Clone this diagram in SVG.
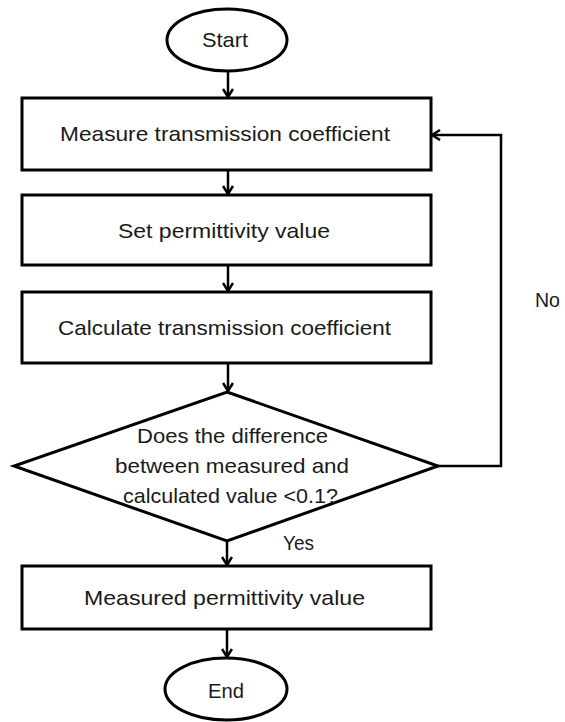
<svg xmlns="http://www.w3.org/2000/svg" width="565" height="722" viewBox="0 0 565 722">
<defs>
<marker id="arr" markerWidth="12" markerHeight="12" viewBox="0 0 12 12" refX="11" refY="6" orient="auto" markerUnits="userSpaceOnUse">
<path d="M3,1 L11,6 L3,11" fill="none" stroke="#000" stroke-width="2.5"/>
</marker>
<style>
.s{fill:#fff;stroke:#000;stroke-width:3}
.c{fill:none;stroke:#000;stroke-width:2.5}
text{font-family:"Liberation Sans","Open Sans",sans-serif;font-size:21px;fill:#1a1a1a;text-anchor:middle}
</style>
</defs>
<rect width="565" height="722" fill="#fff"/>
<g id="connectors">
<line class="c" x1="228" y1="72" x2="228" y2="97" marker-end="url(#arr)"/>
<line class="c" x1="228" y1="170" x2="228" y2="194" marker-end="url(#arr)"/>
<line class="c" x1="228" y1="265" x2="228" y2="291" marker-end="url(#arr)"/>
<line class="c" x1="228" y1="363" x2="228" y2="391" marker-end="url(#arr)"/>
<line class="c" x1="227" y1="541" x2="227" y2="565" marker-end="url(#arr)"/>
<line class="c" x1="227" y1="629" x2="227" y2="657" marker-end="url(#arr)"/>
<polyline class="c" points="438,466 501,466 501,135 432,135" marker-end="url(#arr)"/>
<text x="298.5" y="550" textLength="31" lengthAdjust="spacingAndGlyphs">Yes</text>
<text x="547.5" y="307" textLength="25" lengthAdjust="spacingAndGlyphs">No</text>
</g>
<g id="start">
<ellipse class="s" cx="227" cy="40" rx="60" ry="31"/>
<text x="225" y="47" textLength="46" lengthAdjust="spacingAndGlyphs">Start</text>
</g>
<g id="measure">
<rect class="s" x="22" y="98" width="409" height="72"/>
<text x="225" y="141" textLength="330" lengthAdjust="spacingAndGlyphs">Measure transmission coefficient</text>
</g>
<g id="set">
<rect class="s" x="22" y="195" width="409" height="70"/>
<text x="224" y="238" textLength="212" lengthAdjust="spacingAndGlyphs">Set permittivity value</text>
</g>
<g id="calculate">
<rect class="s" x="22" y="292" width="409" height="71"/>
<text x="224.5" y="335" textLength="333" lengthAdjust="spacingAndGlyphs">Calculate transmission coefficient</text>
</g>
<g id="decision">
<polygon class="s" points="227,392 438,466 227,541 14,466"/>
<text x="232.5" y="443" textLength="191" lengthAdjust="spacingAndGlyphs">Does the difference</text>
<text x="232" y="473" textLength="234" lengthAdjust="spacingAndGlyphs">between measured and</text>
<text x="230.5" y="503" textLength="215" lengthAdjust="spacingAndGlyphs">calculated value &lt;0.1?</text>
</g>
<g id="result">
<rect class="s" x="22" y="566" width="409" height="63"/>
<text x="224.5" y="605" textLength="281" lengthAdjust="spacingAndGlyphs">Measured permittivity value</text>
</g>
<g id="end">
<ellipse class="s" cx="226" cy="689" rx="61" ry="31"/>
<text x="226" y="698" textLength="36" lengthAdjust="spacingAndGlyphs">End</text>
</g>
</svg>
